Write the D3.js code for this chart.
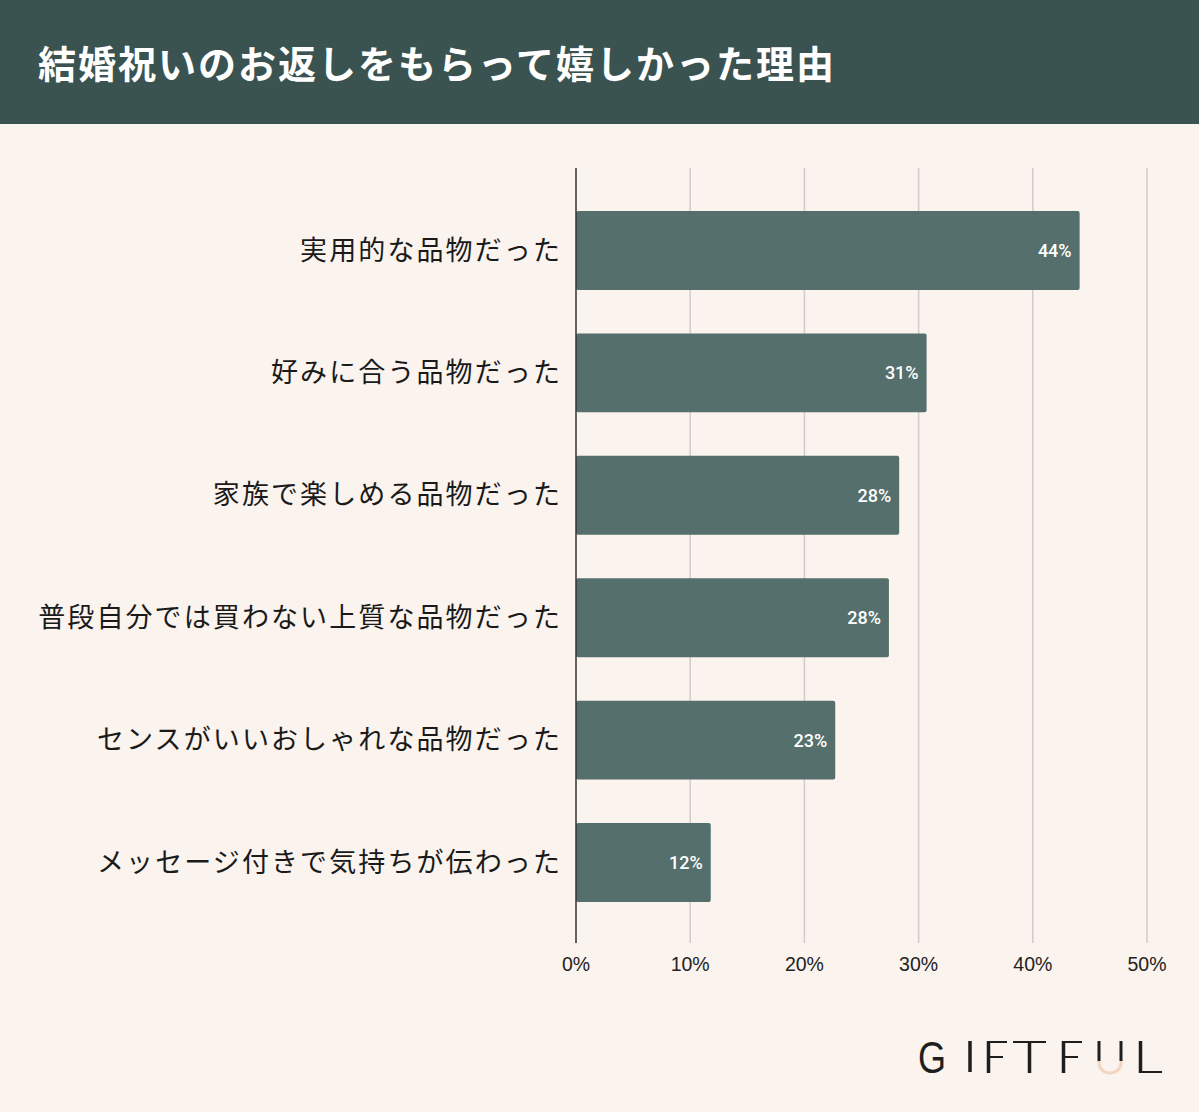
<!DOCTYPE html>
<html><head><meta charset="utf-8">
<script src="https://cdn.jsdelivr.net/npm/d3@7/dist/d3.min.js"></script>
<style>html,body{margin:0;padding:0;background:#faf3ee;}svg{display:block;}</style>
</head><body>
<script>
const title = "結婚祝いのお返しをもらって嬉しかった理由";
const categories = ["実用的な品物だった","好みに合う品物だった","家族で楽しめる品物だった","普段自分では買わない上質な品物だった","センスがいいおしゃれな品物だった","メッセージ付きで気持ちが伝わった"];
const values = [44.1, 30.7, 28.3, 27.4, 22.7, 11.8];
const valueLabels = ["44%","31%","28%","28%","23%","12%"];
const ticks = [0,10,20,30,40,50];
const tickLabels = ["0%","10%","20%","30%","40%","50%"];

const W = 1199, H = 1112;
const jp = "'Noto Sans CJK JP','Noto Sans',sans-serif";
const svg = d3.select("body").append("svg").attr("width",W).attr("height",H);
svg.append("rect").attr("width",W).attr("height",H).attr("fill","#faf3ee");
svg.append("rect").attr("width",W).attr("height",124).attr("fill","#3a5250");
svg.append("text").attr("x",38).attr("y",78).attr("fill","#fff").attr("font-family",jp)
  .attr("font-weight",700).attr("font-size",38).attr("letter-spacing",2).text(title);

const x = d3.scaleLinear().domain([0,50]).range([576,1147]);
const y = d3.scaleBand().domain(categories).range([189.3,923.7]).paddingInner(0.355).paddingOuter(0.1775);
const gTop = 168, gBot = 943;

svg.append("g").selectAll("line").data(ticks.slice(1)).join("line")
  .attr("x1",d=>x(d)).attr("x2",d=>x(d)).attr("y1",gTop).attr("y2",gBot)
  .attr("stroke","#cfcccb").attr("stroke-width",1.5);

svg.append("g").selectAll("text").data(ticks).join("text")
  .attr("x",d=>x(d)).attr("y",971).attr("text-anchor","middle")
  .attr("font-family","'Liberation Sans',Arial,sans-serif").attr("font-size",19.5).attr("fill","#222")
  .text((d,i)=>tickLabels[i]);

const bars = svg.append("g").selectAll("g").data(categories).join("g");
bars.append("rect").attr("x",x(0)).attr("y",d=>y(d))
  .attr("width",(d,i)=>x(values[i])-x(0)).attr("height",y.bandwidth())
  .attr("rx",2).attr("fill","#546f6c");
bars.append("text").attr("x",(d,i)=>x(values[i])-8).attr("y",d=>y(d)+y.bandwidth()/2+6.5)
  .attr("text-anchor","end").attr("fill","#fff").attr("font-family","Roboto,sans-serif")
  .attr("font-weight",500).attr("font-size",18).text((d,i)=>valueLabels[i]);
bars.append("text").attr("x",562).attr("y",d=>y(d)+y.bandwidth()/2+9)
  .attr("text-anchor","end").attr("fill","#1a1a1a").attr("font-family",jp)
  .attr("font-size",27).attr("letter-spacing",2.1).text(d=>d);

svg.append("line").attr("x1",x(0)).attr("x2",x(0)).attr("y1",gTop).attr("y2",gBot)
  .attr("stroke","#333").attr("stroke-width",1.5);

// logo
const logo = svg.append("g");
const ink = "#1e1e1e";
logo.append("text").attr("x",918).attr("y",1073).attr("font-family","'Liberation Sans',sans-serif")
  .attr("font-size",44).attr("fill",ink).attr("transform","translate(918,0) scale(0.82,1) translate(-918,0)").text("G");
const seg = (x1,y1,x2,y2,w,c)=>logo.append("line").attr("x1",x1).attr("y1",y1).attr("x2",x2).attr("y2",y2)
  .attr("stroke",c||ink).attr("stroke-width",w);
seg(970,1041,970,1072,3.5);
seg(988.5,1041,988.5,1073,3.5); seg(987,1042,1007,1042,2); seg(987,1057,1003,1057,2);
seg(1013,1042,1046,1042,2); seg(1029.5,1042,1029.5,1073,3.5);
seg(1063.5,1041,1063.5,1073,3.5); seg(1062,1042,1082,1042,2); seg(1062,1057,1078,1057,2);
seg(1099,1041,1099,1061,3); seg(1121,1041,1121,1061,3);
logo.append("path").attr("d","M1099,1061 L1099,1063 A11,10 0 0 0 1121,1063 L1121,1061")
  .attr("fill","none").attr("stroke","#f3d6c2").attr("stroke-width",3);
seg(1140.5,1041,1140.5,1073,3.5); seg(1139,1072,1162,1072,2);
</script>
</body></html>
